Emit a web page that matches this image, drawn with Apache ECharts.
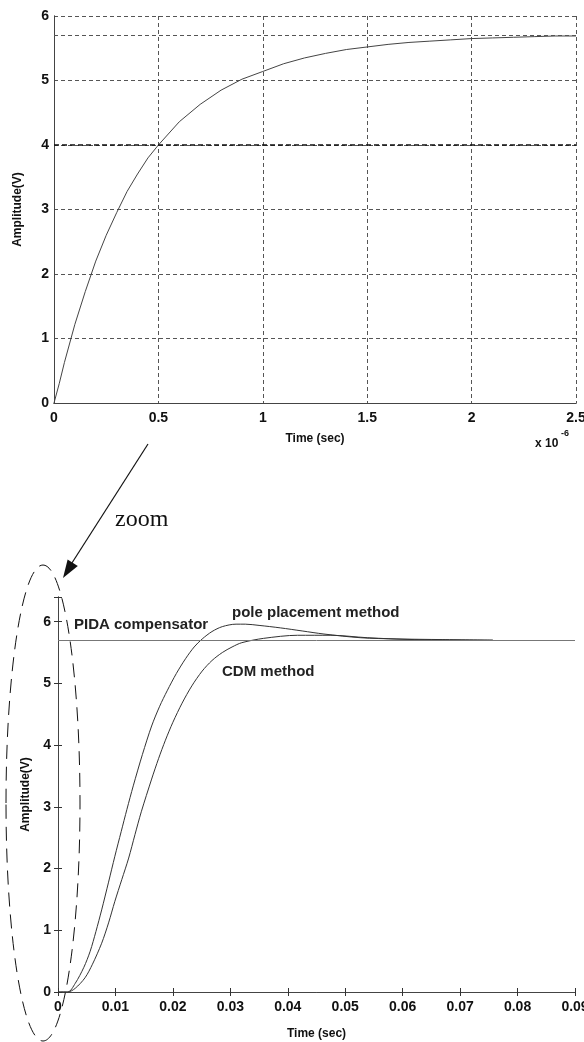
<!DOCTYPE html>
<html>
<head>
<meta charset="utf-8">
<script src="https://cdn.jsdelivr.net/npm/echarts@6/dist/echarts.min.js"></script>
<style>
html, body { margin: 0; padding: 0; background: #fff; }
#chart { width: 584px; height: 1042px; }
</style>
</head>
<body>
<div id="chart"></div>
<script>
// upper plot, time in units of 1e-6 s
const topTime = [0, 0.025, 0.05, 0.1, 0.15, 0.2, 0.25, 0.3, 0.35, 0.4, 0.45, 0.5, 0.6, 0.7, 0.8, 0.9, 1.0,
    1.1, 1.2, 1.3, 1.4, 1.5, 1.6, 1.7, 1.8, 1.9, 2.0, 2.1, 2.2, 2.3, 2.4, 2.5]
const topAmp = [0, 0.3, 0.63, 1.22, 1.73, 2.2, 2.6, 2.95, 3.28, 3.55, 3.8, 4.0, 4.36, 4.63, 4.85, 5.02, 5.14,
    5.26, 5.35, 5.42, 5.48, 5.52, 5.56, 5.59, 5.61, 5.63, 5.65, 5.66, 5.67, 5.68, 5.69, 5.69]
const topRefLines = [5.7, 4]

// lower plot (zoomed)
const poleTime = [0, 0.0017, 0.003, 0.0045, 0.0056, 0.0066, 0.0076, 0.0088, 0.0099, 0.011, 0.012, 0.0131,
    0.0147, 0.0163, 0.0177, 0.019, 0.0206, 0.0222, 0.0237, 0.0251, 0.0268, 0.0286, 0.031, 0.0326, 0.035,
    0.0387, 0.0425, 0.0463, 0.0527, 0.059, 0.067, 0.0757]
const poleAmp = [0, 0, 0.14, 0.4, 0.66, 0.98, 1.33, 1.78, 2.2, 2.6, 2.96, 3.34,
    3.85, 4.31, 4.63, 4.88, 5.16, 5.4, 5.59, 5.72, 5.84, 5.92, 5.96, 5.96, 5.94,
    5.9, 5.85, 5.8, 5.74, 5.72, 5.71, 5.7]
const cdmTime = [0, 0.0017, 0.003, 0.0047, 0.006, 0.0076, 0.0088, 0.0099, 0.0111, 0.0123, 0.0134, 0.0145,
    0.0163, 0.0175, 0.0187, 0.02, 0.0216, 0.0233, 0.0251, 0.0268, 0.0286, 0.0303, 0.032, 0.0358, 0.0417,
    0.0475, 0.0539, 0.062, 0.0757]
const cdmAmp = [0, 0, 0.06, 0.23, 0.45, 0.79, 1.12, 1.47, 1.82, 2.17, 2.55, 2.92,
    3.45, 3.78, 4.08, 4.37, 4.68, 4.96, 5.2, 5.37, 5.5, 5.59, 5.66, 5.73, 5.78,
    5.78, 5.74, 5.71, 5.7]
const finalValue = 5.7

const pairs = (xs, ys) => xs.map((x, i) => [x, ys[i]])

const labelFont = { fontFamily: 'Liberation Sans', fontWeight: 'bold', color: '#111' }
const frame = { show: true, lineStyle: { color: '#444', width: 1 } }

// box axes (top / right) with no labels
function boxX (gridIndex, min, max, interval, ticks) {
    return {
        type: 'value', gridIndex, position: 'top', min, max, interval,
        axisLine: frame, axisLabel: { show: false }, splitLine: { show: false },
        axisTick: { show: ticks, inside: true, length: 4, lineStyle: { color: '#333' } }
    }
}
function boxY (gridIndex, min, max, interval, ticks) {
    return {
        type: 'value', gridIndex, position: 'right', min, max, interval,
        axisLine: frame, axisLabel: { show: false }, splitLine: { show: false },
        axisTick: { show: ticks, inside: true, length: 4, lineStyle: { color: '#333' } }
    }
}

const gridDash = { color: '#555', type: [4, 3], width: 1 }

const option = {
    animation: false,
    backgroundColor: '#fff',
    grid: [
        { left: 54, top: 16, right: 8, height: 387, outerBoundsMode: 'none' },
        { left: 58, top: 597, right: 9, height: 395, outerBoundsMode: 'none' }
    ],
    xAxis: [
        {
            type: 'value', gridIndex: 0, min: 0, max: 2.5, interval: 0.5,
            axisLine: frame, axisTick: { show: false },
            axisLabel: { ...labelFont, fontSize: 14, margin: 8 },
            splitLine: { show: true, lineStyle: gridDash },
            name: 'Time (sec)', nameLocation: 'middle', nameGap: 30,
            nameTextStyle: { ...labelFont, fontSize: 12 }
        },
        boxX(0, 0, 2.5, 0.5, false),
        {
            type: 'value', gridIndex: 1, min: 0, max: 0.09, interval: 0.01,
            axisLine: frame,
            axisTick: { show: true, inside: true, length: 4, lineStyle: { color: '#333' } },
            axisLabel: { ...labelFont, fontSize: 14, margin: 8 },
            splitLine: { show: false },
            name: 'Time (sec)', nameLocation: 'middle', nameGap: 36,
            nameTextStyle: { ...labelFont, fontSize: 12 }
        },
        boxX(1, 0, 0.09, 0.01, true)
    ],
    yAxis: [
        {
            type: 'value', gridIndex: 0, min: 0, max: 6, interval: 1,
            axisLine: frame, axisTick: { show: false },
            axisLabel: { ...labelFont, fontSize: 14, margin: 5 },
            splitLine: { show: true, lineStyle: gridDash },
            name: 'Amplitude(V)', nameLocation: 'middle', nameGap: 30,
            nameTextStyle: { ...labelFont, fontSize: 12 }
        },
        boxY(0, 0, 6, 1, false),
        {
            type: 'value', gridIndex: 1, min: 0, max: 6.4, interval: 1,
            axisLine: frame,
            axisTick: { show: true, inside: true, length: 4, lineStyle: { color: '#333' } },
            axisLabel: {
                ...labelFont, fontSize: 14, margin: 7,
                formatter: v => (Number.isInteger(v) ? String(v) : '')
            },
            splitLine: { show: false },
            name: 'Amplitude(V)', nameLocation: 'middle', nameGap: 26,
            nameTextStyle: { ...labelFont, fontSize: 12 }
        },
        boxY(1, 0, 6.4, 1, true)
    ],
    series: [
        {
            name: 'response',
            type: 'line',
            xAxisIndex: 0,
            yAxisIndex: 0,
            data: pairs(topTime, topAmp),
            showSymbol: false,
            lineStyle: { color: '#444', width: 1 },
            markLine: {
                silent: true,
                symbol: 'none',
                label: { show: false },
                data: [
                    { yAxis: topRefLines[0], lineStyle: { color: '#555', type: [4, 3], width: 1 } },
                    { yAxis: topRefLines[1], lineStyle: { color: '#111', type: [5, 3], width: 1.6 } }
                ]
            }
        },
        {
            name: 'pole placement method',
            type: 'line',
            xAxisIndex: 2,
            yAxisIndex: 2,
            data: pairs(poleTime, poleAmp),
            showSymbol: false,
            smooth: 0.3,
            lineStyle: { color: '#333', width: 1 },
            markLine: {
                silent: true,
                symbol: 'none',
                label: { show: false },
                data: [{ yAxis: finalValue }],
                lineStyle: { color: '#777', type: 'solid', width: 1 }
            }
        },
        {
            name: 'CDM method',
            type: 'line',
            xAxisIndex: 2,
            yAxisIndex: 2,
            data: pairs(cdmTime, cdmAmp),
            showSymbol: false,
            smooth: 0.3,
            lineStyle: { color: '#333', width: 1 }
        }
    ],
    graphic: [
        // exponent of the upper time axis
        { type: 'text', left: 535, top: 438, style: { text: 'x 10', font: 'bold 12px "Liberation Sans"', fill: '#111' } },
        { type: 'text', left: 561, top: 429, style: { text: '-6', font: 'bold 9px "Liberation Sans"', fill: '#111' } },
        // curve labels
        { type: 'text', left: 74, top: 617, style: { text: 'PIDA compensator', font: 'bold 15px "Liberation Sans"', fill: '#222' } },
        { type: 'text', left: 232, top: 605, style: { text: 'pole placement method', font: 'bold 15px "Liberation Sans"', fill: '#222' } },
        { type: 'text', left: 222, top: 664, style: { text: 'CDM method', font: 'bold 15px "Liberation Sans"', fill: '#222' } },
        // zoom arrow
        { type: 'line', shape: { x1: 148, y1: 444, x2: 70, y2: 566 }, style: { stroke: '#111', lineWidth: 1.2 } },
        { type: 'polygon', shape: { points: [[63, 578], [77.8, 566], [67.6, 559.6]] }, style: { fill: '#111' } },
        { type: 'text', left: 115, top: 508, style: { text: 'zoom', font: '24px "Liberation Serif"', fill: '#111' } },
        // dashed ellipse around the start of the lower plot
        {
            type: 'ellipse', shape: { cx: 43, cy: 803, rx: 37, ry: 238 },
            style: { fill: 'none', stroke: '#111', lineWidth: 1, lineDash: [14, 8] }, z: 100
        }
    ]
}

const myChart = echarts.init(document.getElementById('chart'))
myChart.setOption(option)
</script>
</body>
</html>
